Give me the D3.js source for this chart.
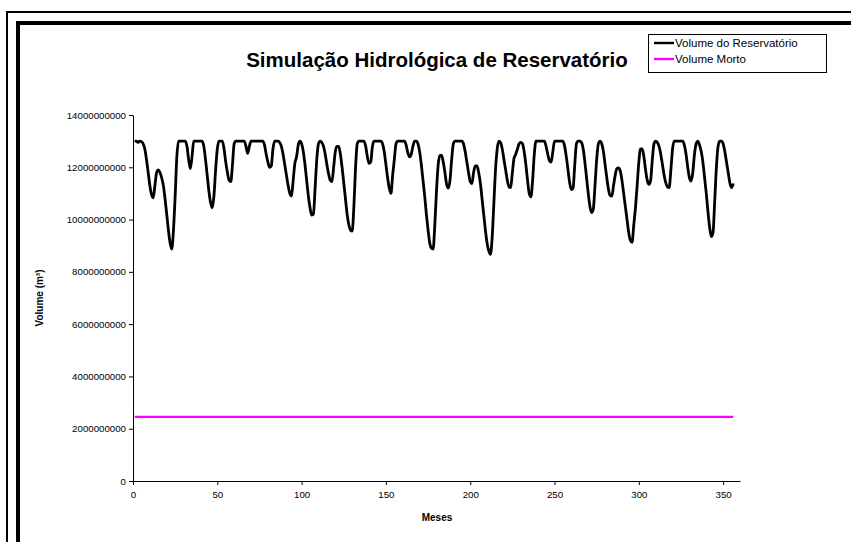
<!DOCTYPE html>
<html><head><meta charset="utf-8">
<script src="https://cdn.jsdelivr.net/npm/d3@7"></script>
<style>body{margin:0;background:#fff} text{font-family:"Liberation Sans",Arial,sans-serif}</style>
</head><body><svg id="c" width="851" height="542"></svg>
<script>
// Reservoir volume per month, in 10^9 m³ (months 1..N)
const volumeBillions = [
13.0,13.0,12.95,13.0,12.98,12.9,12.7,12.3,11.8,11.3,
10.95,10.83,11.3,11.8,11.9,11.8,11.6,11.3,10.8,10.2,
9.6,9.1,8.87,9.6,10.9,12.4,13.0,13.0,13.0,13.0,
13.0,12.8,12.3,11.95,12.4,13.0,13.0,13.0,13.0,13.0,
13.0,12.8,12.3,11.7,11.1,10.65,10.45,10.9,11.9,12.7,
13.0,13.0,13.0,12.7,12.2,11.8,11.5,11.45,12.1,12.9,
13.0,13.0,13.0,13.0,13.0,13.0,12.8,12.53,12.8,13.0,
13.0,13.0,13.0,13.0,13.0,13.0,13.0,12.85,12.5,12.2,
12.0,12.05,12.7,13.0,13.0,13.0,12.95,12.8,12.5,12.1,
11.7,11.3,11.0,10.9,11.5,12.15,12.4,12.85,13.0,12.9,
12.6,12.1,11.5,10.9,10.45,10.17,10.2,11.2,12.3,12.9,
13.0,12.95,12.8,12.5,12.1,11.75,11.5,11.45,12.0,12.6,
12.8,12.8,12.5,12.0,11.4,10.8,10.2,9.8,9.6,9.56,
10.5,12.0,12.9,13.0,13.0,13.0,13.0,12.8,12.4,12.15,
12.2,12.8,13.0,13.0,13.0,13.0,13.0,12.9,12.6,12.1,
11.6,11.2,11.0,11.7,12.3,12.9,13.0,13.0,13.0,13.0,
13.0,12.85,12.55,12.4,12.5,12.8,13.0,13.0,12.9,12.6,
12.1,11.5,10.9,10.2,9.6,9.1,8.9,8.87,9.8,11.1,
12.1,12.45,12.45,12.2,11.8,11.35,11.2,11.5,12.3,12.9,
13.0,13.0,13.0,13.0,13.0,12.9,12.6,12.2,11.8,11.45,
11.38,11.8,12.05,12.05,11.8,11.4,10.8,10.2,9.6,9.1,
8.8,8.67,9.3,10.6,11.9,12.7,13.0,12.95,12.7,12.3,
11.9,11.5,11.25,11.22,11.8,12.35,12.5,12.7,12.9,12.95,
12.9,12.6,12.1,11.5,11.0,10.87,11.5,12.5,13.0,13.0,
13.0,13.0,13.0,13.0,12.8,12.5,12.25,12.2,12.6,13.0,
13.0,13.0,13.0,13.0,13.0,12.8,12.4,11.9,11.4,11.15,
11.2,12.1,12.9,13.0,13.0,12.95,12.7,12.2,11.6,11.0,
10.5,10.27,10.4,11.3,12.3,12.9,13.0,12.9,12.6,12.1,
11.6,11.15,10.92,10.9,11.3,11.7,11.95,11.98,11.85,11.5,
11.0,10.5,10.0,9.5,9.2,9.13,9.8,10.45,11.3,12.2,
12.7,12.7,12.4,11.9,11.5,11.35,11.5,12.3,12.9,13.0,
12.95,12.8,12.5,12.1,11.7,11.4,11.25,11.22,11.9,12.7,
13.0,13.0,13.0,13.0,13.0,13.0,12.85,12.5,12.0,11.6,
11.47,11.8,12.5,12.9,13.0,12.85,12.6,12.2,11.6,11.0,
10.3,9.7,9.35,9.5,10.7,12.0,12.8,13.0,13.0,12.9,
12.6,12.2,11.8,11.4,11.22,11.38
];
const deadVolume = 2.45e9; // Volume Morto (m³)
const xTicks = [0,50,100,150,200,250,300,350];
const yTicks = [0,2e9,4e9,6e9,8e9,10e9,12e9,14e9];
const seriesNames = ["Volume do Reservatório","Volume Morto"];
const seriesColors = ["#000000","#FF00FF"];

const volume = volumeBillions.map((v,i)=>({m:i+1, v:v*1e9}));

const svg = d3.select("#c");
svg.append("rect").attr("width",851).attr("height",542).attr("fill","#fff");
// frames
svg.append("rect").attr("x",7).attr("y",12).attr("width",900).attr("height",600)
  .attr("fill","none").attr("stroke","#000").attr("stroke-width",2);
svg.append("rect").attr("x",18).attr("y",23).attr("width",900).attr("height",600)
  .attr("fill","none").attr("stroke","#000").attr("stroke-width",4);

const x = d3.scaleLinear().domain([0,360]).range([133,740]);
const y = d3.scaleLinear().domain([0,14e9]).range([481,115]);

const fmt = d3.format("d");
const gy = svg.append("g").attr("transform","translate(133,0)")
  .call(d3.axisLeft(y).tickValues(yTicks).tickSize(4).tickSizeOuter(0).tickPadding(3).tickFormat(fmt));
const gx = svg.append("g").attr("transform","translate(0,481)")
  .call(d3.axisBottom(x).tickValues(xTicks).tickSize(4).tickSizeOuter(0).tickPadding(6));
[gx,gy].forEach(g=>{
  g.selectAll("text").attr("font-family","Liberation Sans, Arial, sans-serif").attr("font-size",9.7).attr("fill","#000");
  g.selectAll("line,path").attr("stroke","#000").attr("stroke-width",1);
});

// dead volume line
svg.append("line").attr("x1",x(volume[0].m)).attr("x2",x(volume[volume.length-1].m))
  .attr("y1",y(deadVolume)).attr("y2",y(deadVolume))
  .attr("stroke",seriesColors[1]).attr("stroke-width",2.2);

// reservoir volume line
svg.append("path").datum(volume)
  .attr("d",d3.line().x(d=>x(d.m)).y(d=>y(d.v)).curve(d3.curveMonotoneX))
  .attr("fill","none").attr("stroke",seriesColors[0]).attr("stroke-width",2.8)
  .attr("stroke-linejoin","round");

// titles
svg.append("text").attr("x",437).attr("y",67).attr("text-anchor","middle")
  .attr("font-size",20.5).attr("font-weight","bold").text("Simulação Hidrológica de Reservatório");
svg.append("text").attr("x",437).attr("y",521).attr("text-anchor","middle")
  .attr("font-size",10).attr("font-weight","bold").text("Meses");
svg.append("text").attr("transform","translate(43,298) rotate(-90)").attr("text-anchor","middle")
  .attr("font-size",10).attr("font-weight","bold").text("Volume (m³)");

// legend
const lg = svg.append("g");
lg.append("rect").attr("x",648.5).attr("y",34.5).attr("width",178).attr("height",38)
  .attr("fill","#fff").attr("stroke","#000").attr("stroke-width",1);
seriesNames.forEach((n,i)=>{
  const yy = 43 + i*16;
  lg.append("line").attr("x1",654).attr("x2",674).attr("y1",yy).attr("y2",yy)
    .attr("stroke",seriesColors[i]).attr("stroke-width",2.4);
  lg.append("text").attr("x",675).attr("y",yy+4).attr("font-size",11.5).text(n);
});
</script></body></html>
